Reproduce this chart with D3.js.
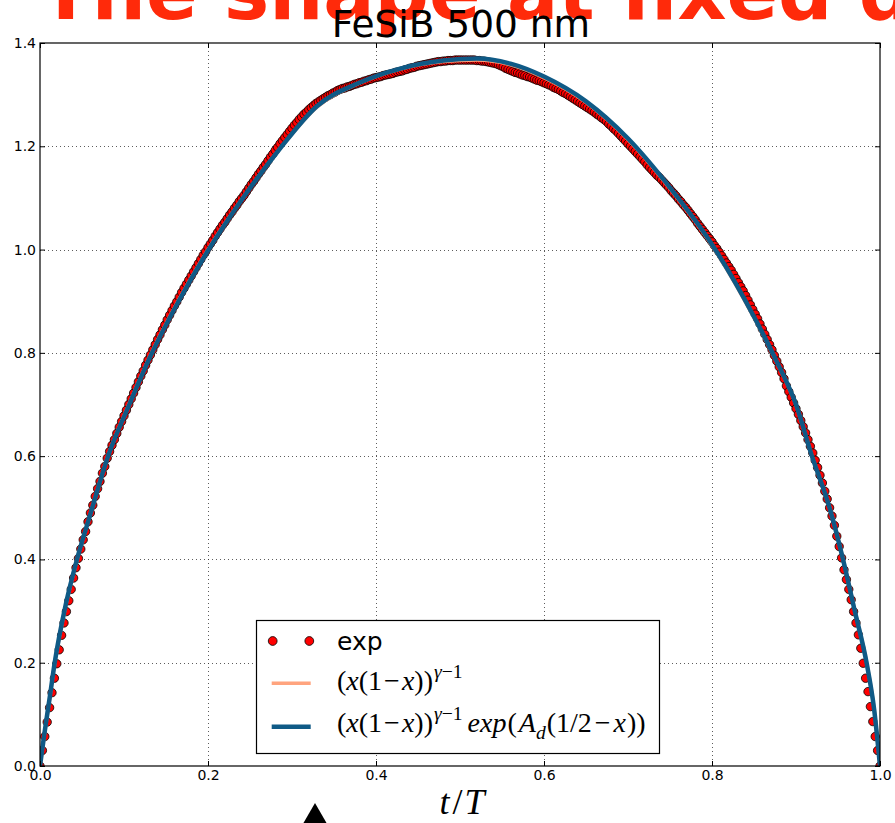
<!DOCTYPE html>
<html><head><meta charset="utf-8">
<script src="https://cdn.jsdelivr.net/npm/d3@7"></script>
<style>body{margin:0;background:#fff}svg{display:block}</style>
</head><body>
<svg id="c" width="895" height="823"></svg>
<script>
// ---------- data ----------
const banner = "The shape at fixed duration";
const title = "FeSiB 500 nm";
const xTicks = [0.0, 0.2, 0.4, 0.6, 0.8, 1.0];
const yTicks = [0.0, 0.2, 0.4, 0.6, 0.8, 1.0, 1.2, 1.4];
// experimental average shape, sampled uniformly in t/T (351 points)
const expY = [
0.000,0.030,0.057,0.085,0.113,0.142,0.170,0.198,0.225,0.253,
0.277,0.299,0.320,0.342,0.364,0.384,0.402,0.420,0.438,0.454,
0.473,0.490,0.505,0.522,0.537,0.551,0.567,0.580,0.596,0.609,
0.621,0.632,0.644,0.656,0.667,0.678,0.689,0.700,0.711,0.722,
0.733,0.744,0.755,0.765,0.776,0.786,0.796,0.806,0.816,0.826,
0.835,0.845,0.854,0.864,0.873,0.882,0.891,0.899,0.908,0.917,
0.925,0.933,0.941,0.949,0.957,0.965,0.973,0.981,0.989,0.996,
1.004,1.011,1.018,1.026,1.033,1.040,1.047,1.053,1.060,1.067,
1.073,1.080,1.086,1.093,1.099,1.105,1.112,1.119,1.126,1.132,
1.139,1.146,1.152,1.159,1.165,1.172,1.179,1.185,1.192,1.198,
1.205,1.211,1.217,1.223,1.229,1.235,1.241,1.246,1.252,1.257,
1.262,1.266,1.271,1.275,1.279,1.283,1.286,1.289,1.292,1.295,
1.298,1.300,1.303,1.305,1.308,1.310,1.312,1.313,1.315,1.316,
1.318,1.320,1.321,1.323,1.324,1.326,1.327,1.329,1.330,1.332,
1.333,1.334,1.335,1.337,1.338,1.339,1.340,1.341,1.343,1.344,
1.345,1.346,1.348,1.349,1.351,1.352,1.353,1.355,1.356,1.357,
1.358,1.359,1.360,1.361,1.362,1.363,1.364,1.364,1.365,1.365,
1.366,1.366,1.366,1.367,1.367,1.367,1.367,1.367,1.367,1.367,
1.367,1.367,1.366,1.366,1.365,1.365,1.364,1.363,1.362,1.361,
1.360,1.358,1.356,1.354,1.351,1.349,1.347,1.345,1.343,1.342,
1.340,1.338,1.337,1.335,1.334,1.332,1.330,1.328,1.327,1.325,
1.323,1.321,1.319,1.317,1.314,1.312,1.310,1.307,1.304,1.302,
1.299,1.296,1.293,1.290,1.287,1.284,1.281,1.278,1.275,1.272,
1.269,1.266,1.262,1.259,1.255,1.252,1.248,1.243,1.239,1.234,
1.230,1.225,1.220,1.215,1.210,1.205,1.200,1.195,1.190,1.185,
1.180,1.175,1.170,1.164,1.159,1.154,1.149,1.144,1.140,1.135,
1.130,1.125,1.120,1.114,1.109,1.104,1.098,1.093,1.087,1.082,
1.076,1.070,1.064,1.058,1.051,1.045,1.039,1.033,1.027,1.021,
1.015,1.008,1.002,0.995,0.988,0.981,0.974,0.967,0.960,0.952,
0.944,0.936,0.928,0.920,0.911,0.902,0.893,0.884,0.875,0.866,
0.856,0.846,0.836,0.826,0.816,0.806,0.795,0.784,0.773,0.762,
0.750,0.736,0.725,0.714,0.703,0.692,0.681,0.669,0.657,0.645,
0.632,0.619,0.606,0.592,0.578,0.563,0.548,0.532,0.517,0.500,
0.484,0.466,0.445,0.425,0.403,0.380,0.361,0.342,0.322,0.299,
0.277,0.254,0.228,0.199,0.170,0.144,0.115,0.086,0.057,0.030,
0.000];
// fitted curves read at selected t/T positions
const fitX    = [0,0.005,0.0115,0.0175,0.031,0.044,0.06,0.081,0.105,0.131,0.165,0.2,0.24,0.285,0.33,0.38,0.43,0.48,0.52,0.56,0.6,0.65,0.7,0.75,0.8,0.85,0.875,0.9,0.919,0.94,0.956,0.97,0.984,0.993,1.0];
const fitSym  = [0,0.058,0.130,0.198,0.313,0.399,0.488,0.601,0.697,0.794,0.902,1.000,1.097,1.194,1.276,1.322,1.350,1.364,1.367,1.358,1.333,1.285,1.213,1.118,1.008,0.868,0.789,0.699,0.600,0.500,0.401,0.301,0.201,0.111,0];
const fitAsym = [0,0.060,0.132,0.200,0.315,0.400,0.488,0.600,0.695,0.792,0.900,0.998,1.096,1.194,1.278,1.323,1.351,1.366,1.370,1.360,1.335,1.287,1.215,1.120,1.010,0.870,0.790,0.700,0.600,0.500,0.400,0.300,0.200,0.110,0];

const expX = d3.range(expY.length).map(i => i / (expY.length - 1));

// ---------- layout ----------
const svg = d3.select("#c");
const x = d3.scaleLinear().domain([0, 1]).range([40, 880]);
const y = d3.scaleLinear().domain([0, 1.4]).range([766, 43]);
const COL_EXP = "#ff0000", COL_SYM = "#ffa47e", COL_ASYM = "#0f5a86";

// banner (cut off at the top)
svg.append("text").attr("x", 40).attr("y", 19)
  .attr("font-family", "DejaVu Sans").attr("font-weight", "bold")
  .attr("font-size", 76).attr("fill", "#ff2a0a").text(banner);

// title
svg.append("text").attr("x", 461).attr("y", 37).attr("text-anchor", "middle")
  .attr("font-family", "DejaVu Sans").attr("font-size", 37.5).attr("fill", "#000").text(title);

// grid
const grid = svg.append("g").attr("stroke", "#333").attr("stroke-width", 0.8).attr("stroke-dasharray", "1,3");
grid.selectAll("line.gx").data(xTicks.slice(1, -1)).join("line")
  .attr("x1", d => Math.round(x(d)) + 0.5).attr("x2", d => Math.round(x(d)) + 0.5)
  .attr("y1", y(1.4)).attr("y2", y(0));
grid.selectAll("line.gy").data(yTicks.slice(1, -1)).join("line")
  .attr("y1", d => Math.round(y(d)) + 0.5).attr("y2", d => Math.round(y(d)) + 0.5)
  .attr("x1", x(0)).attr("x2", x(1));

// clip
svg.append("clipPath").attr("id", "clip").append("rect")
  .attr("x", x(0)).attr("y", y(1.4)).attr("width", x(1) - x(0)).attr("height", y(0) - y(1.4));
const plot = svg.append("g").attr("clip-path", "url(#clip)");

plot.selectAll("circle").data(expY).join("circle")
  .attr("cx", (d, i) => x(expX[i])).attr("cy", d => y(d)).attr("r", 4.2)
  .attr("fill", COL_EXP).attr("stroke", "#000").attr("stroke-width", 0.8);

const line = (arr) => d3.line().x((d, i) => x(fitX[i])).y(d => y(d)).curve(d3.curveMonotoneX)(arr);
plot.append("path").attr("d", line(fitSym)).attr("fill", "none").attr("stroke", COL_SYM).attr("stroke-width", 3.5);
plot.append("path").attr("d", line(fitAsym)).attr("fill", "none").attr("stroke", COL_ASYM).attr("stroke-width", 4.5);

// axes
const fmt = d3.format(".1f");
const styleAxis = g => {
  g.select(".domain").remove();
  g.selectAll(".tick line").attr("stroke", "#000").attr("stroke-width", 1);
  g.selectAll(".tick text").attr("font-family", "DejaVu Sans").attr("font-size", 14).attr("fill", "#000");
};
svg.append("g").attr("transform", `translate(0,${y(0)})`)
  .call(d3.axisBottom(x).tickValues(xTicks).tickFormat(fmt).tickSize(-5).tickPadding(4)).call(styleAxis);
svg.append("g").attr("transform", `translate(${x(0)},0)`)
  .call(d3.axisLeft(y).tickValues(yTicks).tickFormat(fmt).tickSize(-5).tickPadding(4)).call(styleAxis);
svg.append("g").attr("transform", `translate(0,${y(1.4)})`)
  .call(d3.axisTop(x).tickValues(xTicks).tickFormat("").tickSize(-5)).call(styleAxis);
svg.append("g").attr("transform", `translate(${x(1)},0)`)
  .call(d3.axisRight(y).tickValues(yTicks).tickFormat("").tickSize(-5)).call(styleAxis);

svg.append("rect").attr("x", x(0)).attr("y", y(1.4)).attr("width", x(1) - x(0)).attr("height", y(0) - y(1.4))
  .attr("fill", "none").attr("stroke", "#000").attr("stroke-width", 1.2);

// x label
const xl = svg.append("text").attr("x", 462).attr("y", 814).attr("text-anchor", "middle")
  .attr("font-family", "Liberation Serif").attr("font-size", 36).attr("fill", "#000");
xl.append("tspan").attr("font-style", "italic").text("t");
xl.append("tspan").attr("dx", 3).text("/");
xl.append("tspan").attr("dx", 2).attr("font-style", "italic").text("T");

// triangle marker
svg.append("path").attr("d", d3.symbol(d3.symbolTriangle, 292)()).attr("transform", "translate(315,818)").attr("fill", "#000");

// legend
const lg = svg.append("g");
lg.append("rect").attr("x", 256.5).attr("y", 620.5).attr("width", 403).attr("height", 133)
  .attr("fill", "#fff").attr("stroke", "#000").attr("stroke-width", 1.2);
lg.selectAll("circle").data([272.7, 309.3]).join("circle")
  .attr("cx", d => d).attr("cy", 641).attr("r", 4.4)
  .attr("fill", COL_EXP).attr("stroke", "#000").attr("stroke-width", 0.8);
lg.append("text").attr("x", 337).attr("y", 650).attr("font-family", "DejaVu Sans").attr("font-size", 25).text("exp");
lg.append("line").attr("x1", 271.7).attr("x2", 310.7).attr("y1", 683.3).attr("y2", 683.3).attr("stroke", COL_SYM).attr("stroke-width", 3.5);
lg.append("line").attr("x1", 271.7).attr("x2", 310.7).attr("y1", 726.7).attr("y2", 726.7).attr("stroke", COL_ASYM).attr("stroke-width", 4.5);

function mathText(g, px, py, parts, size) {
  const t = g.append("text").attr("x", px).attr("y", py)
    .attr("font-family", "Liberation Serif").attr("font-size", size).attr("fill", "#000");
  parts.forEach(p => {
    const ts = t.append("tspan").text(p.t);
    if (p.i) ts.attr("font-style", "italic");
    if (p.s) ts.attr("font-size", size * 0.7);
    if (p.dy) ts.attr("dy", p.dy);
    if (p.dx) ts.attr("dx", p.dx);
  });
}
const base = [
  {t: "("}, {t: "x", i: 1}, {t: "(1"}, {t: "\u2212", dx: 2}, {t: "x", i: 1, dx: 2}, {t: "))"},
  {t: "\u03b3", i: 1, s: 1, dy: -12, dx: 1}, {t: "\u22121", s: 1}
];
mathText(lg, 337, 690, base, 28);
mathText(lg, 337, 732, base.concat([
  {t: "exp", i: 1, dy: 12, dx: 5}, {t: "(", dx: 1}, {t: "A", i: 1, dx: 2}, {t: "d", i: 1, s: 1, dy: 7},
  {t: "(1/2", dy: -7, dx: 1}, {t: "\u2212", dx: 3}, {t: "x", i: 1, dx: 3}, {t: "))", dx: 1}
]), 28);
</script>
</body></html>
